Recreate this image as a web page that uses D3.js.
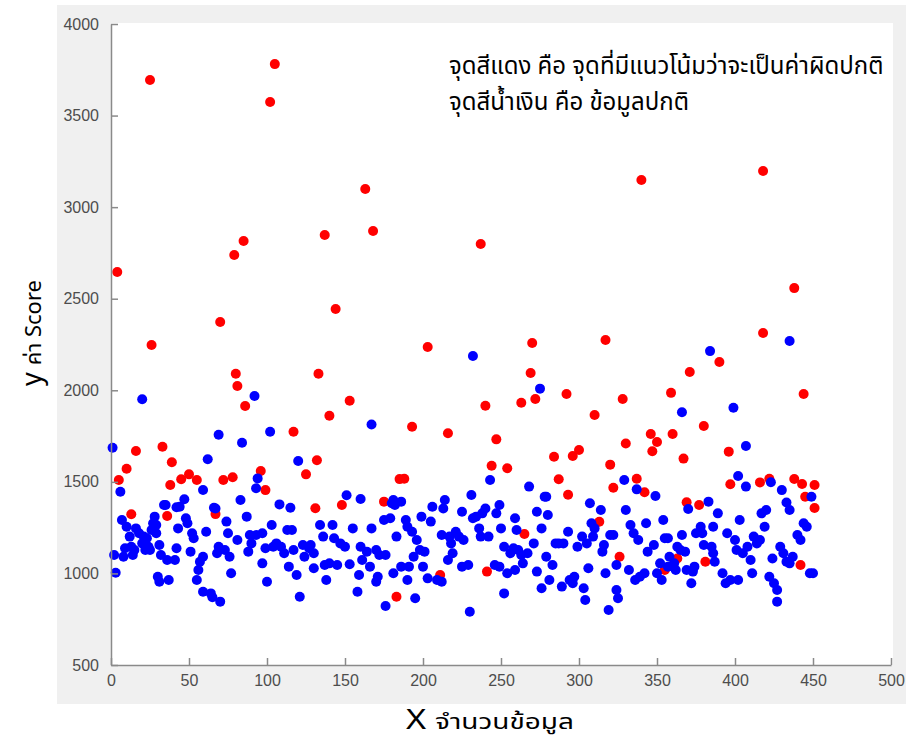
<!DOCTYPE html>
<html>
<head>
<meta charset="utf-8">
<script src="https://cdn.jsdelivr.net/npm/d3@7"></script>
<style>
  body { margin: 0; background: #fff; }
  svg { display: block; }
</style>
</head>
<body>
<svg width="906" height="746"></svg>
<script>
// red = likely outliers, blue = normal data  ([index, score])
var redPoints = [
  [4,2646],[25,3694],[26,2247],[102,3574],[105,3781],[163,3099],[137,2848],[168,2870],
  [85,2815],[79,2739],[70,2373],[144,2444],[133,2090],[203,2236],[237,2799],[270,2258],
  [269,2094],[317,2275],[340,3148],[418,3197],[418,2313],[438,2558],[371,2100],[390,2154],
  [80,2090],[81,2023],[86,1914],[16,1668],[10,1572],[5,1510],[33,1692],[39,1607],[38,1483],
  [45,1514],[50,1541],[55,1510],[72,1510],[78,1525],[13,1323],[36,1314],[67,1324],[96,1559],
  [99,1455],[117,1774],[153,1943],[140,1861],[132,1618],[125,1541],[131,1356],[148,1374],
  [175,1392],[185,1515],[183,873],
  [193,1801],[216,1765],[240,1916],[263,1932],[272,1952],[292,1980],[310,1865],[328,1952],
  [359,1986],[444,1980],[188,1517],[247,1732],[244,1588],[254,1574],[287,1514],[284,1637],
  [296,1641],[300,1674],[293,1430],[320,1594],[322,1468],[330,1709],[337,1517],[342,1443],
  [346,1761],[350,1718],[347,1667],[360,1761],[367,1627],[380,1805],[396,1665],[369,1388],
  [377,1374],[397,1487],[416,1497],[422,1517],[438,1516],[443,1488],[451,1483],[445,1419],
  [451,1357],[265,1215],[313,1282],[326,1091],[363,1082],[355,1019],[381,1064],[442,1046],
  [241,1010],[211,991]
];

var bluePoints = [
  // upper
  [20,1951],[1,1686],[6,1446],[92,1969],[69,1757],[84,1714],[102,1774],[62,1623],[167,1813],
  [120,1614],[94,1519],[93,1465],[59,1456],[151,1427],[160,1406],[42,1361],[34,1374],[66,1359],
  [232,2187],[275,2009],[366,1880],[384,2214],[435,2269],[399,1905],[407,1696],[243,1510],
  [279,1419],[329,1510],[337,1459],[349,1423],[402,1532],[407,1474],[423,1498],[430,1455],
  [449,1419],[370,1352],[433,1387],[435,1346],
  // 0 - 185
  [2,1101],[3,1004],[7,1292],[10,1255],[12,1201],[9,1137],[13,1146],[14,1101],[16,1246],
  [18,1219],[20,1164],[21,1201],[23,1192],[24,1146],[25,1128],[27,1274],[28,1310],[29,1219],
  [31,1155],[35,1374],[36,1073],[30,982],[31,955],[37,964],[41,1073],[42,1137],[43,1246],
  [44,1364],[47,1405],[48,1301],[49,1274],[51,1119],[52,1219],[53,1192],[55,964],[56,1019],
  [57,1064],[59,1091],[59,900],[61,1228],[64,891],[65,870],[67,1355],[69,1146],[70,846],
  [68,1110],[73,1128],[74,1283],[75,1219],[76,1091],[77,1001],[81,1183],[83,1401],[87,1310],
  [88,1119],[89,1210],[90,1164],[93,1210],[97,1219],[97,1055],[99,1137],[100,955],[103,1264],
  [104,1146],[106,1164],[108,1377],[109,1146],[111,1110],[113,1237],[114,1037],[115,1359],
  [116,1237],[117,1128],[119,991],[121,873],[123,1155],[124,1091],[127,1137],[128,1155],
  [130,1110],[130,1028],[134,1264],[136,1201],[137,1046],[138,964],[140,1055],[142,1264],
  [143,1192],[145,1046],[147,1164],[150,1146],[153,1050],[155,1246],[158,900],[159,991],
  [160,1146],[161,1073],[164,1119],[166,1037],[167,1246],[170,1128],[170,955],[171,982],
  [172,1101],[175,1292],[176,1101],[176,822],[179,1301],[180,1383],[181,1001],[181,1401],
  [183,1201],[182,1374],[8,1091],[15,1128],[22,1128],[26,1237],[29,1264],[32,1101],
  // 185 - 450
  [186,1392],[189,1292],[190,1255],[193,1228],[196,1183],[186,1037],[191,1037],[190,964],
  [195,864],[194,1091],[198,1128],[200,1037],[201,1119],[199,1310],[205,1283],[203,973],
  [206,1364],[209,964],[212,955],[213,1355],[214,1401],[212,1210],[217,1201],[218,1164],
  [216,1073],[219,1110],[221,1228],[223,1201],[225,1337],[226,1183],[225,1037],[229,1046],
  [230,791],[231,1428],[232,1301],[234,1310],[236,1246],[237,1201],[238,1328],[240,1355],
  [242,1201],[247,1328],[249,1374],[250,1246],[252,891],[246,1046],[249,1037],[252,1146],
  [254,1001],[256,1110],[258,1137],[259,1301],[260,1237],[259,1019],[261,1128],[263,1101],
  [264,1055],[267,1110],[268,1474],[271,1164],[273,1010],[273,1337],[276,1246],[276,919],
  [278,1419],[279,1091],[280,1319],[281,964],[283,1046],[285,1164],[287,1164],[290,1164],
  [289,928],[293,1228],[294,964],[296,946],[297,982],[299,1146],[302,1201],[303,919],
  [304,855],[305,1164],[306,1028],[307,1383],[308,1274],[309,1201],[310,1246],[314,1346],
  [315,1119],[316,1155],[317,1001],[319,800],[320,1210],[322,1210],[324,1046],[324,910],
  [325,864],[330,1346],[332,1019],[333,1264],[335,1219],[336,964],[338,1183],[339,982],
  [342,1001],[343,1274],[344,1119],[348,1155],[350,1001],[352,1055],[353,964],[354,1292],
  [355,1192],[357,1192],[357,1037],[358,1091],[361,1055],[362,1019],[363,1146],[365,1128],
  [366,1210],[368,1119],[369,1019],[372,946],[373,1010],[374,1037],[375,1219],[378,1255],
  [379,1219],[380,1155],[383,1392],[385,1146],[386,1255],[386,1110],[387,1064],[389,1328],
  [392,1001],[394,946],[395,1219],[397,964],[400,1183],[401,1128],[402,964],[403,1292],
  [405,1110],[408,1146],[410,1073],[411,1001],[412,1201],[414,1164],[416,1183],[417,1328],
  [419,1255],[420,1346],[422,982],[424,1082],[425,946],[427,910],[427,846],[429,1146],
  [431,1110],[433,1064],[435,1055],[437,1091],[440,1210],[442,1183],[444,1274],[446,1255],
  [448,1001],[450,1001]
];

var xTicks = [0, 50, 100, 150, 200, 250, 300, 350, 400, 450, 500];
var yTicks = [500, 1000, 1500, 2000, 2500, 3000, 3500, 4000];
var noteLines = ["จุดสีแดง คือ จุดที่มีแนวโน้มว่าจะเป็นค่าผิดปกติ", "จุดสีน้ำเงิน  คือ ข้อมูลปกติ"];
var xLabel = ["X", "จำนวนข้อมูล"];
var yLabel = ["y", "ค่า Score"];

var svg = d3.select("svg"),
    thai = "Tahoma, 'Noto Sans Thai', 'Noto Sans', sans-serif";

var x = d3.scaleLinear().domain([0, 500]).range([111, 891]);
var y = d3.scaleLinear().domain([500, 4000]).range([665, 24]);

// figure background + white axes area
svg.append("rect").attr("x", 57).attr("y", 5).attr("width", 849).attr("height", 699).attr("fill", "#f0f0f0");
svg.append("rect").attr("x", 111).attr("y", 23).attr("width", 782).attr("height", 642).attr("fill", "#fff");

var g = svg.append("g");

g.append("g").selectAll("circle")
  .data(redPoints)
  .enter().append("circle")
    .attr("cx", function(d) { return x(d[0]); })
    .attr("cy", function(d) { return y(d[1]); })
    .attr("r", 5)
    .attr("fill", "#ff0000");

g.append("g").selectAll("circle")
  .data(bluePoints)
  .enter().append("circle")
    .attr("cx", function(d) { return x(d[0]); })
    .attr("cy", function(d) { return y(d[1]); })
    .attr("r", 5)
    .attr("fill", "#0000ff");

svg.append("g")
    .attr("transform", "translate(0,665)")
    .call(d3.axisBottom(x).tickValues(xTicks).tickFormat(d3.format("d")).tickSizeInner(-7).tickSizeOuter(0).tickPadding(10));

svg.append("g")
    .attr("transform", "translate(111,0)")
    .call(d3.axisLeft(y).tickValues(yTicks).tickFormat(d3.format("d")).tickSizeInner(-7).tickSizeOuter(0).tickPadding(12));

svg.selectAll(".domain, .tick line").attr("stroke", "#8a8a8a").attr("stroke-width", 1.5);
svg.selectAll(".tick text")
    .attr("fill", "#4d4d4d")
    .attr("font-family", "'Liberation Sans', Arial, sans-serif")
    .attr("font-size", 16);

// axis labels: latin letter bigger than the thai part
var xl = svg.append("text")
    .attr("x", 490)
    .attr("y", 729)
    .attr("text-anchor", "middle")
    .attr("font-family", thai)
    .attr("textLength", 168)
    .attr("lengthAdjust", "spacingAndGlyphs")
    .attr("fill", "#000");
xl.append("tspan").attr("font-size", 27).text(xLabel[0] + " ");
xl.append("tspan").attr("font-size", 22).text(xLabel[1]);

var yl = svg.append("text")
    .attr("transform", "translate(41,333) rotate(-90)")
    .attr("text-anchor", "middle")
    .attr("font-family", thai)
    .attr("fill", "#000");
yl.append("tspan").attr("font-size", 27).text(yLabel[0] + " ");
yl.append("tspan").attr("font-size", 22).text(yLabel[1]);

svg.append("g").selectAll("text")
  .data(noteLines)
  .enter().append("text")
    .attr("x", 449)
    .attr("y", function(d, i) { return 74 + i * 36; })
    .attr("font-family", thai)
    .attr("font-size", 24)
    .attr("fill", "#000")
    .text(function(d) { return d; });
</script>
</body>
</html>
